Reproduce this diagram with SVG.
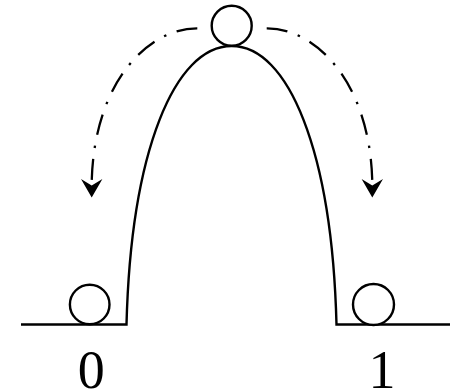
<svg xmlns="http://www.w3.org/2000/svg" width="450" height="391" viewBox="0 0 450 391">
<defs>
<style>
.ln{fill:none;stroke:#000;stroke-width:2.4}
.ball{fill:#fff;stroke:#000;stroke-width:2.4}
.dd{fill:none;stroke:#000;stroke-width:2.3;stroke-dasharray:21 11 2.5 11}
.lbl{font-family:"Liberation Serif","Times New Roman",serif;font-size:54px;fill:#000;text-anchor:middle}
</style>
</defs>
<rect width="450" height="391" fill="#fff"/>
<g id="ground">
<path class="ln" d="M21,324.5 H126.5 C131,150 175,46 231.7,46 C288,46 332,150 336.5,324.5 H450"/>
</g>
<g id="connectors">
<path class="dd" d="M197.3,28.3 C150,28 94,80 91.7,182"/>
<path d="M81,179 L91.7,197.5 L102.4,179 L91.7,185.5 Z" fill="#000"/>
<path class="dd" d="M266.7,28.3 C314,28 370,80 372.3,182"/>
<path d="M361.6,179 L372.3,197.5 L383,179 L372.3,185.5 Z" fill="#000"/>
</g>
<g id="ball-top"><circle class="ball" cx="231.7" cy="25.7" r="20"/></g>
<g id="ball-0"><circle class="ball" cx="89.7" cy="304.5" r="19.8"/></g>
<g id="ball-1"><circle class="ball" cx="373.5" cy="304.5" r="20.5"/></g>
<g id="label-0"><text class="lbl" x="91.2" y="387.5">0</text></g>
<g id="label-1"><text class="lbl" x="382" y="387.5">1</text></g>
</svg>
